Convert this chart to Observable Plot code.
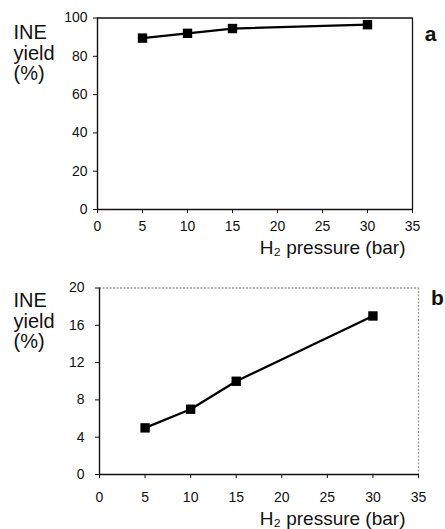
<!DOCTYPE html>
<html>
<head>
<meta charset="utf-8">
<script src="https://cdn.jsdelivr.net/npm/d3@7"></script>
<script src="https://cdn.jsdelivr.net/npm/@observablehq/plot@0.6"></script>
<style>
  html, body { margin: 0; padding: 0; background: #fff; }
  #chart { position: relative; width: 445px; height: 529px; font-family: "Liberation Sans", Arial, sans-serif; }
  #chart svg { display: block; }
</style>
</head>
<body>
<div id="chart"></div>
<script>
// ---- data ----
const pressure = [5, 10, 15, 30];
const yieldA = [89.5, 92, 94.5, 96.5];
const yieldB = [5, 7, 10, 17];
const xTicks = [0, 5, 10, 15, 20, 25, 30, 35];
const yTicksA = [0, 20, 40, 60, 80, 100];
const yTicksB = [0, 4, 8, 12, 16, 20];
const xTitle = "H\u2082 pressure (bar)";
const yTitle = "INE\nyield\n(%)";
const panelTags = ["a", "b"];

const font = '"Liberation Sans", Arial, sans-serif';

function panel({values, yTicks, yMax, height, mt, mb, ml, mr, tag, frameStroke, frameDash,
                xPad, yPad, titleDx, titleDy, yTitleDy, tagDx, tagDy}) {
  const data = pressure.map((p, i) => ({p, v: values[i]}));
  return Plot.plot({
    width: 445,
    height,
    marginTop: mt, marginBottom: mb, marginLeft: ml, marginRight: mr,
    style: {fontFamily: font, background: "white", overflow: "visible"},
    x: {domain: [0, 35]},
    y: {domain: [0, yMax]},
    marks: [
      Plot.ruleY([yMax], {stroke: frameStroke, strokeWidth: 1.3, strokeDasharray: frameDash}),
      Plot.ruleX([35], {stroke: frameStroke, strokeWidth: 1.3, strokeDasharray: frameDash}),
      Plot.ruleY([0], {stroke: "#111", strokeWidth: 1.4}),
      Plot.ruleX([0], {stroke: "#111", strokeWidth: 1.4}),
      Plot.axisX({ticks: xTicks, tickSize: 4, tickPadding: xPad, fontSize: 14, label: null, stroke: "#111", fill: "#111"}),
      Plot.axisY({ticks: yTicks, tickSize: 4, tickPadding: yPad, fontSize: 14, label: null, stroke: "#111", fill: "#111"}),
      Plot.line(data, {x: "p", y: "v", stroke: "#000", strokeWidth: 2.3}),
      Plot.dot(data, {x: "p", y: "v", symbol: "square", r: 5.3, fill: "#000", stroke: "none"}),
      Plot.text([xTitle], {frameAnchor: "bottom-right", textAnchor: "end", lineAnchor: "middle",
        dx: titleDx, dy: titleDy, fontSize: 19, fill: "#111"}),
      Plot.text([yTitle], {frameAnchor: "top-left", textAnchor: "start", lineAnchor: "top",
        dx: 13 - ml, dy: yTitleDy, fontSize: 20, lineHeight: 1.02, fill: "#111"}),
      Plot.text([tag], {frameAnchor: "top-right", textAnchor: "middle", lineAnchor: "middle",
        dx: tagDx, dy: tagDy, fontSize: 21, fontWeight: "bold", fill: "#111"})
    ]
  });
}

const chart = document.getElementById("chart");
chart.append(panel({
  values: yieldA, yTicks: yTicksA, yMax: 100, height: 260,
  mt: 17.5, mb: 51, ml: 97, mr: 33, tag: panelTags[0],
  frameStroke: "#111", frameDash: null,
  xPad: 8, yPad: 6, titleDx: -7, titleDy: 38, yTitleDy: 7, tagDx: 18, tagDy: 16
}));
chart.append(panel({
  values: yieldB, yTicks: yTicksB, yMax: 20, height: 269,
  mt: 27.5, mb: 55, ml: 99, mr: 27, tag: panelTags[1],
  frameStroke: "#999", frameDash: "2,1.5",
  xPad: 14, yPad: 11, titleDx: -13, titleDy: 44, yTitleDy: 5, tagDx: 19, tagDy: 10
}));
</script>
</body>
</html>
